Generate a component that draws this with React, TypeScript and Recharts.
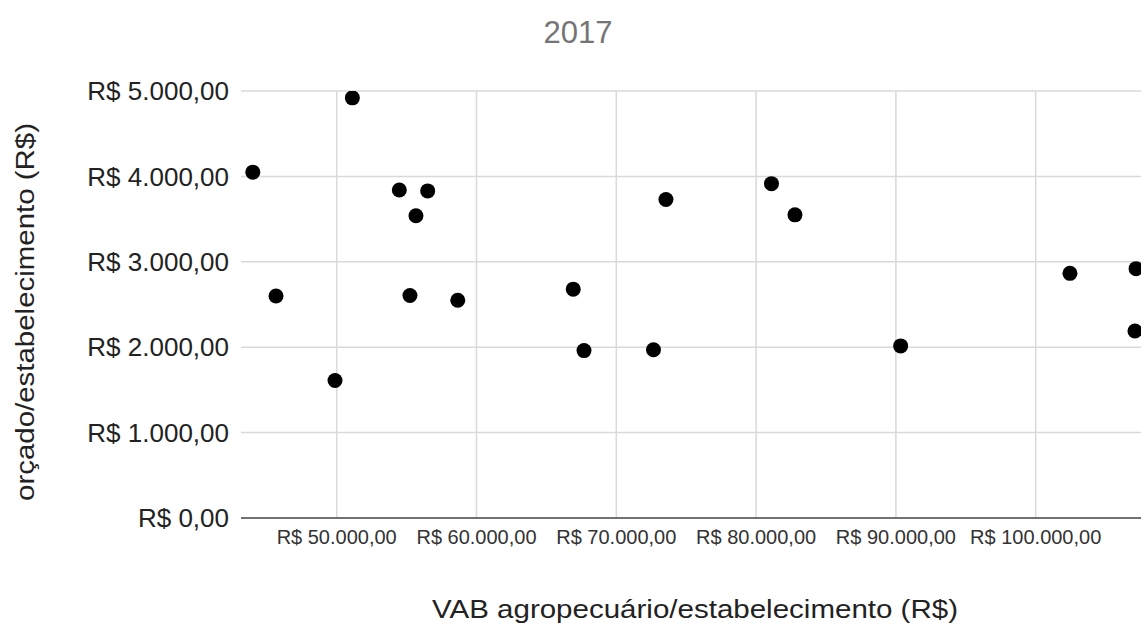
import React from 'react';
import { ScatterChart, Scatter, XAxis, YAxis, CartesianGrid } from 'recharts';

const vabValues = [44000, 51120, 54480, 56510, 55670, 45660, 55240, 58660, 66920, 49880, 67690, 73550, 81100, 82780, 102450, 107180, 72660, 90340, 107100];
const orcadoValues = [4050, 4920, 3840, 3830, 3540, 2600, 2605, 2550, 2680, 1610, 1960, 3730, 3915, 3550, 2865, 2920, 1970, 2015, 2190];
const xTicks = [50000, 60000, 70000, 80000, 90000, 100000];
const yTicks = [0, 1000, 2000, 3000, 4000, 5000];
const chartTitle = '2017';
const xTitle = 'VAB agropecuário/estabelecimento (R$)';
const yTitle = 'orçado/estabelecimento (R$)';

const FONT = '"Liberation Sans", Arial, sans-serif';

const fmt = (v: number) => {
  const s = Math.round(v).toString().replace(/\B(?=(\d{3})+(?!\d))/g, '.');
  return `R$ ${s},00`;
};

const data = vabValues.map((x, i) => ({ x, y: orcadoValues[i] }));

const Dot = (props: any) => {
  const { cx, cy } = props;
  if (cx == null || cy == null) return null;
  return <circle cx={cx} cy={cy} r={7.5} fill="#000" />;
};

export default function App() {
  return (
    <div style={{ position: 'absolute', left: 0, top: 0, width: 1141, height: 628, overflow: 'hidden', background: '#fff' }}>
      <ScatterChart width={1141} height={628} margin={{ top: 91, right: 0, bottom: 0, left: 0 }}>
        <CartesianGrid stroke="#d9d9d9" strokeWidth={1.5} syncWithTicks />
        <XAxis
          type="number"
          dataKey="x"
          domain={[43155, 107532]}
          ticks={xTicks}
          tickFormatter={fmt}
          interval={0}
          height={110}
          tickSize={0}
          tickMargin={12}
          tickLine={false}
          allowDataOverflow
          axisLine={{ stroke: '#4d4d4d', strokeWidth: 1.5 }}
          tick={{ fill: '#333', fontSize: 20, fontFamily: FONT }}
        />
        <YAxis
          type="number"
          dataKey="y"
          domain={[0, 5000]}
          ticks={yTicks}
          tickFormatter={fmt}
          interval={0}
          width={241}
          tickSize={0}
          tickMargin={12}
          tickLine={false}
          axisLine={false}
          allowDataOverflow
          tick={{ fill: '#222', fontSize: 26, fontFamily: FONT }}
        />
        <Scatter data={data} isAnimationActive={false} shape={<Dot />} fill="#000" />
      </ScatterChart>
      <svg width={1141} height={628} style={{ position: 'absolute', left: 0, top: 0, pointerEvents: 'none' }}>
        <text x={578} y={43} textAnchor="middle" fontSize={31} fill="#757575" fontFamily={FONT}>{chartTitle}</text>
        <text x={695} y={618} textAnchor="middle" fontSize={26} fill="#222" fontFamily={FONT} textLength={526} lengthAdjust="spacingAndGlyphs">{xTitle}</text>
        <text x={0} y={0} transform="translate(34 312) rotate(-90)" textAnchor="middle" fontSize={26} fill="#222" fontFamily={FONT} textLength={378} lengthAdjust="spacingAndGlyphs">{yTitle}</text>
      </svg>
    </div>
  );
}
